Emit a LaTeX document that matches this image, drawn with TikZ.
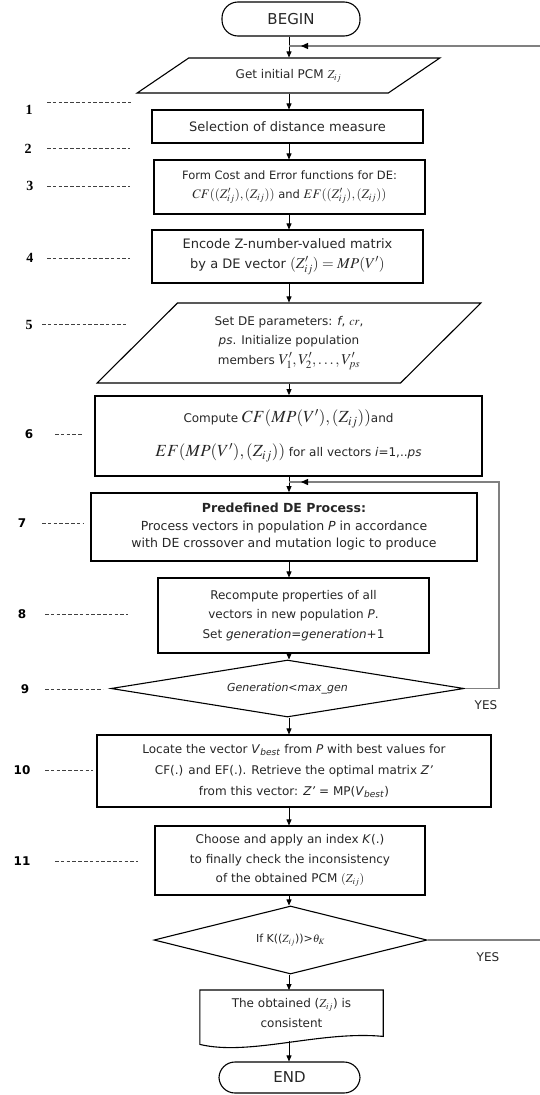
\documentclass[tikz,border=0pt]{standalone}
\usepackage{mathptmx}
\usepackage{fontspec}
\setmainfont{DejaVu Sans}
\newfontfamily\numserif{Liberation Serif}
\usetikzlibrary{shapes.geometric,arrows.meta,calc}

\begin{document}
\begin{tikzpicture}[x=1pt,y=-1pt,
  every node/.style={text=black!85},
  box/.style={draw=black, line width=1.1pt, align=center, inner sep=2pt,
    font=\fontsize{12}{19.5}\selectfont},
  thickbox/.style={box, line width=1.7pt},
  term/.style={draw=black, line width=1.1pt, rounded corners=16pt,
    font=\fontsize{15}{18}\selectfont},
  io/.style={trapezium, trapezium stretches=true, draw=black, line width=1.1pt,
    align=center, inner sep=2pt, font=\fontsize{12}{19.5}\selectfont},
  decision/.style={diamond, draw=black, line width=1.1pt, inner sep=0pt,
    align=center, font=\fontsize{11}{14}\selectfont},
  flow/.style={line width=0.8pt, -{Triangle[length=6pt,width=5pt]}},
  back/.style={draw=black!50, line width=1.3pt},
  backtip/.style={back, -{Triangle[length=7pt,width=6pt,color=black]}},
  leader/.style={draw=black!75, line width=0.8pt, dash pattern=on 3.5pt off 2.3pt},
  numA/.style={font=\numserif\bfseries\fontsize{14}{14}\selectfont, text=black},
  numB/.style={font=\bfseries\fontsize{12}{12}\selectfont, text=black},
  yes/.style={font=\fontsize{12}{12}\selectfont},
]
\useasboundingbox (0,0) rectangle (540,1095);

% main column
\coordinate (axis) at (289,0);

% terminals, processes, decisions
\node[term, minimum width=138pt, minimum height=34pt] (begin) at (291,19) {BEGIN};
\node[io, trapezium left angle=30.7, trapezium right angle=149.3,
      minimum width=303pt, minimum height=35pt] (pcm) at (288.5,75.5)
      {Get initial PCM $Z_{ij}$};
\node[box, minimum width=271pt, minimum height=33pt, font=\fontsize{13}{19}\selectfont]
      (sel) at (287.5,126.5) {Selection of distance measure};
\node[box, minimum width=271pt, minimum height=54pt, font=\fontsize{11.5}{19}\selectfont]
      (cost) at (289.5,187)
      {Form Cost and Error functions for DE:\\
       {\fontsize{13}{19}\selectfont$CF((Z'_{ij}),(Z_{ij}))$} and
       {\fontsize{13}{19}\selectfont$EF((Z'_{ij}),(Z_{ij}))$}};
\node[box, minimum width=271pt, minimum height=53pt, font=\fontsize{13}{20}\selectfont]
      (enc) at (287.5,256.5)
      {Encode Z-number-valued matrix\\
       by a DE vector {\fontsize{15}{20}\selectfont$(Z'_{ij})=MP(V')$}};
\node[io, trapezium left angle=46.5, trapezium right angle=133.5,
      minimum width=384pt, minimum height=80pt] (par) at (289,343)
      {Set DE parameters: \textit{f}, $cr$,\\
       \textit{ps}. Initialize population\\
       members {\fontsize{15}{20}\selectfont$V'_1,V'_2,\ldots,V'_{ps}$}};
\node[thickbox, minimum width=387pt, minimum height=80pt, font=\fontsize{12}{34}\selectfont]
      (comp) at (288.5,436)
      {Compute {\fontsize{17}{34}\selectfont$CF(MP(V'),(Z_{ij}))$}and\\
       {\fontsize{17}{34}\selectfont$EF(MP(V'),(Z_{ij}))$} for all vectors \textit{i}=1,..\textit{ps}};
\node[thickbox, minimum width=386pt, minimum height=68pt, font=\fontsize{12.5}{17.5}\selectfont]
      (proc) at (284,527)
      {\textbf{Predefined DE Process:}\\
       Process vectors in population \textit{P} in accordance\\
       with DE crossover and mutation logic to produce};
\node[box, minimum width=271pt, minimum height=75pt] (rec) at (293.5,615.5)
      {Recompute properties of all\\
       vectors in new population \textit{P}.\\
       Set \textit{generation=generation}+1};
\node[decision, aspect=6, minimum width=353pt, minimum height=57pt] (gen) at (287.5,688.5)
      {\textit{Generation<max\_gen}};
\node[box, minimum width=394pt, minimum height=72pt, font=\fontsize{12}{21}\selectfont]
      (loc) at (294,771)
      {Locate the vector \textit{V}\textsubscript{\textit{best}} from \textit{P} with best values for\\
       CF(.) and EF(.). Retrieve the optimal matrix \textit{Z'}\\
       from this vector: \textit{Z'} = MP(\textit{V}\textsubscript{\textit{best}})};
\node[box, minimum width=270pt, minimum height=69pt] (chk) at (290,860.5)
      {Choose and apply an index \textit{K}(.)\\
       to finally check the inconsistency\\
       of the obtained PCM $(Z_{ij})$};
\node[decision, aspect=4, minimum width=273pt, minimum height=68pt] (cons) at (290.5,940)
      {If K(($Z_{ij}$))>$\theta_K$};
\node[align=center, inner sep=2pt, minimum width=183pt, minimum height=46pt,
      font=\fontsize{12}{19.5}\selectfont, anchor=north] (doc) at (291.5,990)
      {The obtained ($Z_{ij}$) is\\ consistent};
\draw[line width=1.1pt] (doc.north west) -- (doc.north east)
      -- ($(doc.south east)+(0,0)$)
      .. controls ($(doc.south east)+(-63,-6)$) and ($(doc.south west)+(50,20)$) ..
      ($(doc.south west)+(0,8)$) -- cycle;
\node[term, minimum width=141pt, minimum height=31pt] (end) at (289.5,1077.5) {END};

% forward connectors
\draw[flow] (begin.south -| axis) -- (pcm.north -| axis);
\draw[flow] (pcm.south -| axis) -- (sel.north -| axis);
\draw[flow] (sel.south -| axis) -- (cost.north -| axis);
\draw[flow] (cost.south -| axis) -- (enc.north -| axis);
\draw[flow] (enc.south -| axis) -- (par.north -| axis);
\draw[flow] (par.south -| axis) -- (comp.north -| axis);
\draw[flow] (comp.south -| axis) -- (proc.north -| axis);
\draw[flow] (proc.south -| axis) -- (rec.north -| axis);
\draw[flow] (rec.south -| axis) -- (gen.north -| axis);
\draw[flow] (gen.south -| axis) -- (loc.north -| axis);
\draw[flow] (loc.south -| axis) -- (chk.north -| axis);
\draw[flow] (chk.south -| axis) -- (cons.north -| axis);
\draw[flow] (cons.south -| axis) -- (doc.north -| axis);
\coordinate (docfoot) at ($(doc.south -| axis)+(0,5)$);
\draw[flow] (docfoot) -- (end.north -| axis);

% loop back from the generation test
\coordinate (loopR) at (499,0);
\coordinate (loopJ) at (289,482);
\draw[back] (gen.east) -- (gen.east -| loopR) -- (loopJ -| loopR) -- (loopJ);
\draw[backtip] (loopJ -| loopR) -- ($(loopJ)+(12,0)$);
\node[yes] (yes1) at (486,705) {YES};

% loop back from the consistency test
\coordinate (topR) at (540,46);
\coordinate (topJ) at (289,46);
\draw[back] (cons.east) -- (cons.east -| topR);
\draw[back] (topR) -- (topJ);
\draw[backtip] (topR) -- ($(topJ)+(12,0)$);
\node[yes] (yes2) at (488,957) {YES};

% step numbers with leaders
\node[numA] (n1) at (29,110) {1};
\draw[leader] (47,102) -- (131,102);
\node[numA] (n2) at (28,149) {2};
\draw[leader] (47,148) -- (130,148);
\node[numA] (n3) at (30,186) {3};
\draw[leader] (47,186) -- (130,186);
\node[numA] (n4) at (30,258) {4};
\draw[leader] (47,258) -- (130,258);
\node[numA] (n5) at (29,325) {5};
\draw[leader] (42,324) -- (126,324);
\node[numB] (n6) at (29,434) {6};
\draw[leader] (55,434) -- (83,434);
\node[numB] (n7) at (22,523) {7};
\draw[leader] (42,523) -- (84,523);
\node[numB] (n8) at (22,614) {8};
\draw[leader] (45,614) -- (128,614);
\node[numB] (n9) at (25,689) {9};
\draw[leader] (45,689) -- (103,689);
\node[numB] (n10) at (22,770) {10};
\draw[leader] (45,770) -- (93,770);
\node[numB] (n11) at (22,861) {11};
\draw[leader] (55,861) -- (138,861);
\end{tikzpicture}
\end{document}
